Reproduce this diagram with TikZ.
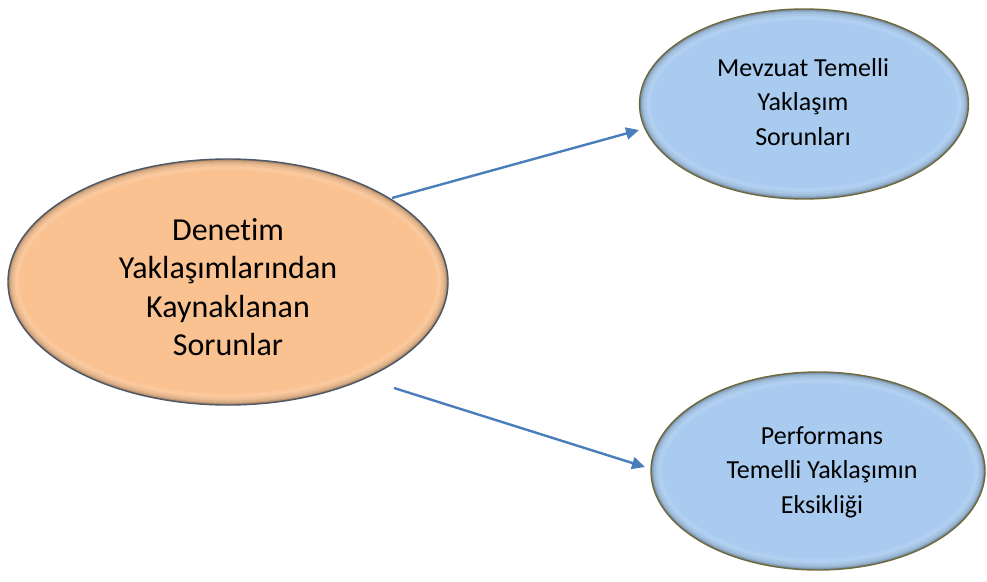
\documentclass[tikz,border=0pt]{standalone}
\usepackage{fontspec}
\setmainfont[Ligatures=NoCommon]{Carlito}
\usetikzlibrary{arrows.meta,shapes.geometric}
\definecolor{orangefill}{HTML}{FAC291}
\definecolor{bluefill}{HTML}{A9CBF0}
\definecolor{orangeedge}{HTML}{4D5866}
\definecolor{blueedge}{HTML}{6E6A3E}
\definecolor{arrowblue}{HTML}{4A7EBB}
% #1 centre, #2 x radius, #3 y radius, #4 fill, #5 edge
\newcommand{\mybevelell}[5]{%
  \fill[#4] #1 ellipse [x radius=#2, y radius=#3];
  \begin{scope}
    \clip #1 ellipse [x radius=#2, y radius=#3];
    \draw[line width=22pt, white, opacity=0.10] #1 ellipse [x radius=#2, y radius=#3];
    \draw[line width=14pt, #4!55!black, opacity=0.10] #1 ellipse [x radius=#2, y radius=#3];
    \draw[line width=9pt, #4!55!black, opacity=0.15] #1 ellipse [x radius=#2, y radius=#3];
    \draw[line width=5pt, #4!50!black, opacity=0.25] #1 ellipse [x radius=#2, y radius=#3];
    \draw[line width=2.5pt, #4!45!black, opacity=0.35] #1 ellipse [x radius=#2, y radius=#3];
  \end{scope}
  \draw[#5, line width=1.4pt] #1 ellipse [x radius=#2, y radius=#3];
}
\begin{document}
\begin{tikzpicture}[x=1pt,y=-1pt,
  ellbase/.style={ellipse, inner sep=0pt},
  bigtext/.style={align=center, font=\fontsize{32}{38.5}\selectfont, inner sep=0pt},
  smalltext/.style={align=center, font=\fontsize{26}{34.5}\selectfont, inner sep=0pt},
  conn/.style={draw=arrowblue, line width=2.4pt, -{Triangle[length=13pt,width=12pt]}}
]
\useasboundingbox (0,0) rectangle (987,581);

\mybevelell{(228,282)}{220}{123}{orangefill}{orangeedge}
\mybevelell{(804,104)}{164.5}{95}{bluefill}{blueedge}
\mybevelell{(818,471)}{167}{99}{bluefill}{blueedge}

\node[ellbase, minimum width=440pt, minimum height=246pt] (L) at (228,282) {};
\node[ellbase, minimum width=329pt, minimum height=190pt] (T) at (804,104) {};
\node[ellbase, minimum width=334pt, minimum height=198pt] (B) at (818,471) {};

\node[bigtext] (Ltext) at (L.center) [yshift=-5pt] {Denetim\\Yaklaşımlarından\\Kaynaklanan\\Sorunlar};
\node[smalltext] (Ttext) at (803,102) {Mevzuat Temelli\\Yaklaşım\\Sorunları};
\node[smalltext] (Btext) at (822,472) {Performans\\Temelli Yaklaşımın\\Eksikliği};

\coordinate (a1s) at (392,198);
\coordinate (a1e) at (639,130);
\coordinate (a2s) at (394,388);
\coordinate (a2e) at (645,467);
\draw[conn] (a1s) -- (a1e);
\draw[conn] (a2s) -- (a2e);
\end{tikzpicture}
\end{document}
